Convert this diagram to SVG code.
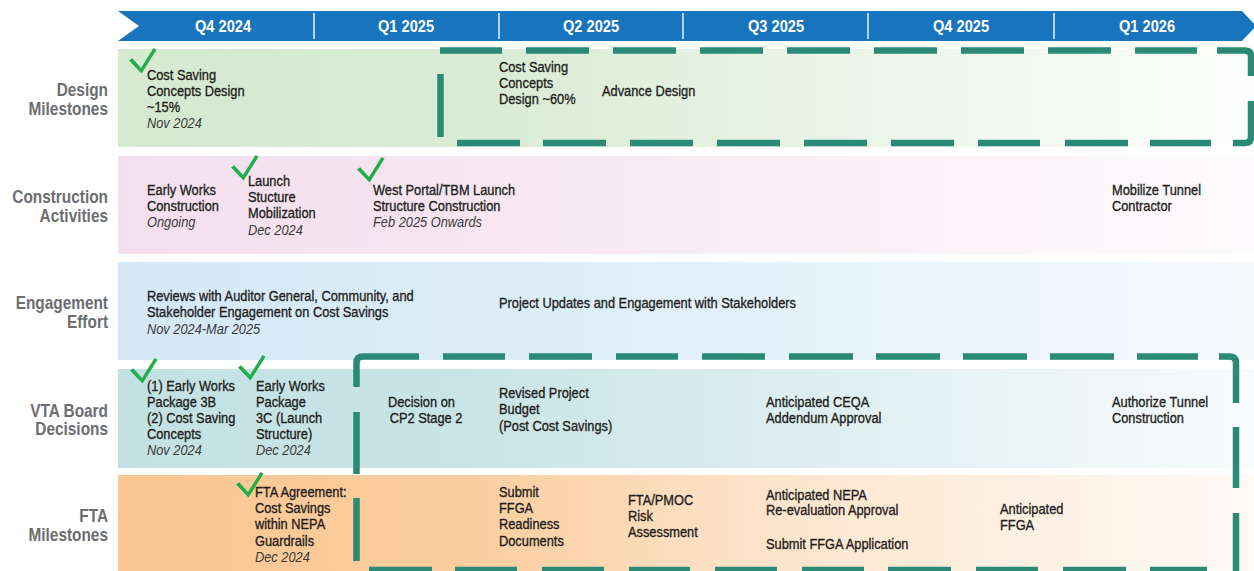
<svg xmlns="http://www.w3.org/2000/svg" xmlns:xlink="http://www.w3.org/1999/xlink" width="1254" height="571" viewBox="0 0 1254 571">
<style>
.lbl{font-family:"Liberation Sans",Arial,sans-serif;font-weight:bold;font-size:17.5px;fill:#6d6e71;text-anchor:end}
.q{font-family:"Liberation Sans",Arial,sans-serif;font-weight:bold;font-size:17px;fill:#ffffff;text-anchor:middle}
.t{font-family:"Liberation Sans",Arial,sans-serif;font-size:15px;fill:#231f20;stroke:#231f20;stroke-width:0.35}
.d{font-style:italic;fill:#3a3a3a;stroke:none}
.chk{fill:#1fae4b}
.dash{fill:none;stroke:#2a8a75;stroke-width:6.5;stroke-linecap:butt}
.div{stroke:#e8f0f8;stroke-width:1.5}
</style>
<defs>
<linearGradient id="gDes" x1="0" y1="0" x2="1" y2="0">
<stop offset="0" stop-color="#d6ead0"/><stop offset="0.3" stop-color="#d9ebd4"/><stop offset="1" stop-color="#fdfefd"/>
</linearGradient>
<linearGradient id="gCon" x1="0" y1="0" x2="1" y2="0">
<stop offset="0" stop-color="#f4e0ed"/><stop offset="0.3" stop-color="#f6e6f0"/><stop offset="1" stop-color="#fdfbfd"/>
</linearGradient>
<linearGradient id="gEng" x1="0" y1="0" x2="1" y2="0">
<stop offset="0" stop-color="#d4e8f6"/><stop offset="0.35" stop-color="#dcedf8"/><stop offset="1" stop-color="#f5fafd"/>
</linearGradient>
<linearGradient id="gVta" x1="0" y1="0" x2="1" y2="0">
<stop offset="0" stop-color="#c3e1e3"/><stop offset="0.3" stop-color="#c9e4e6"/><stop offset="1" stop-color="#f8fbfc"/>
</linearGradient>
<linearGradient id="gFta" x1="0" y1="0" x2="1" y2="0">
<stop offset="0" stop-color="#fbc792"/><stop offset="0.3" stop-color="#fbcd9e"/><stop offset="0.6" stop-color="#fde6cf"/><stop offset="1" stop-color="#fefaf6"/>
</linearGradient>
<path id="chk" d="M0,12.5 L3.2,10.3 L12,20 L24.5,0 L27.5,1.8 L12.5,25.5 Z"/>
</defs>
<rect width="1254" height="571" fill="#ffffff"/>

<g id="timeline-header">
<path d="M118,11 H1242 L1256,26 L1242,41 H118 L139,26 Z" fill="#1874bc"/>
<line class="div" x1="314" y1="13" x2="314" y2="39"/>
<line class="div" x1="499" y1="13" x2="499" y2="39"/>
<line class="div" x1="683" y1="13" x2="683" y2="39"/>
<line class="div" x1="868" y1="13" x2="868" y2="39"/>
<line class="div" x1="1054" y1="13" x2="1054" y2="39"/>
<text class="q" transform="translate(223,0) scale(0.86,1)" x="0" y="32.5">Q4 2024</text>
<text class="q" transform="translate(406,0) scale(0.86,1)" x="0" y="32.5">Q1 2025</text>
<text class="q" transform="translate(591,0) scale(0.86,1)" x="0" y="32.5">Q2 2025</text>
<text class="q" transform="translate(776,0) scale(0.86,1)" x="0" y="32.5">Q3 2025</text>
<text class="q" transform="translate(961,0) scale(0.86,1)" x="0" y="32.5">Q4 2025</text>
<text class="q" transform="translate(1147,0) scale(0.86,1)" x="0" y="32.5">Q1 2026</text>
</g>

<g id="row-design">
<rect x="118" y="49" width="1136" height="98" fill="url(#gDes)"/>
<text class="lbl" transform="translate(108,0) scale(0.88,1)"><tspan x="0" y="96">Design</tspan><tspan x="0" y="115.5">Milestones</tspan></text>
</g>
<g id="row-construction">
<rect x="118" y="156" width="1136" height="98" fill="url(#gCon)"/>
<text class="lbl" transform="translate(108,0) scale(0.88,1)"><tspan x="0" y="203">Construction</tspan><tspan x="0" y="222">Activities</tspan></text>
</g>
<g id="row-engagement">
<rect x="118" y="262" width="1136" height="98" fill="url(#gEng)"/>
<text class="lbl" transform="translate(108,0) scale(0.88,1)"><tspan x="0" y="309.5">Engagement</tspan><tspan x="0" y="328.5">Effort</tspan></text>
</g>
<g id="row-vta">
<rect x="118" y="369" width="1136" height="99" fill="url(#gVta)"/>
<text class="lbl" transform="translate(108,0) scale(0.88,1)"><tspan x="0" y="417">VTA Board</tspan><tspan x="0" y="435">Decisions</tspan></text>
</g>
<g id="row-fta">
<rect x="118" y="475" width="1136" height="96" fill="url(#gFta)"/>
<text class="lbl" transform="translate(108,0) scale(0.88,1)"><tspan x="0" y="522">FTA</tspan><tspan x="0" y="541">Milestones</tspan></text>
</g>

<g id="phase-boxes">
<path class="dash" d="M440,50.5 H502 M526,50.5 H589 M613,50.5 H676 M700,50.5 H763 M787,50.5 H850 M874,50.5 H937 M961,50.5 H1024 M1048,50.5 H1111 M1135,50.5 H1197 M1217,50.5 H1245 Q1251,50.5 1251,56.5 V76 M1251,101 V137 Q1251,143 1245,143 H1233 M1211,143 H1150 M1128,143 H1065 M1040,143 H978 M954,143 H891 M867,143 H804 M780,143 H717 M693,143 H630 M606,143 H543 M520,143 H457 M440.5,74 V137"/>
<path class="dash" d="M356.5,387 V363 Q356.5,356.5 363,356.5 H419 M443,356.5 H505 M529,356.5 H592 M616,356.5 H678 M702,356.5 H765 M789,356.5 H853 M876,356.5 H940 M963,356.5 H1027 M1050,356.5 H1114 M1137,356.5 H1198 M1219,356.5 H1229.5 Q1236,356.5 1236,363 V403 M1236,427 V488 M1236,513 V575 M356.5,412 V474 M356.5,498 V561 M369,570 H432 M455,570 H517 M542,570 H604 M629,570 H690 M715,570 H777 M802,570 H864 M888,570 H951 M976,570 H1038 M1063,570 H1126 M1150,570 H1207"/>
</g>

<g id="design-15">
<use href="#chk" class="chk" x="129" y="48"/>
<text class="t" transform="translate(147,0) scale(0.855,1)"><tspan x="0" y="80">Cost Saving</tspan><tspan x="0" y="96">Concepts Design</tspan><tspan x="0" y="112">~15%</tspan><tspan class="d" x="0" y="128.5">Nov 2024</tspan></text>
</g>
<g id="design-60">
<text class="t" transform="translate(499,0) scale(0.855,1)"><tspan x="0" y="72">Cost Saving</tspan><tspan x="0" y="88">Concepts</tspan><tspan x="0" y="104.5">Design ~60%</tspan></text>
</g>
<g id="advance-design">
<text class="t" transform="translate(602,0) scale(0.855,1)" x="0" y="96.5">Advance Design</text>
</g>

<g id="early-works-construction">
<text class="t" transform="translate(147,0) scale(0.855,1)"><tspan x="0" y="195">Early Works</tspan><tspan x="0" y="211">Construction</tspan><tspan class="d" x="0" y="227.5">Ongoing</tspan></text>
</g>
<g id="launch-structure-mobilization">
<use href="#chk" class="chk" x="231" y="155"/>
<text class="t" transform="translate(248,0) scale(0.855,1)"><tspan x="0" y="186">Launch</tspan><tspan x="0" y="202">Stucture</tspan><tspan x="0" y="218.5">Mobilization</tspan><tspan class="d" x="0" y="235">Dec 2024</tspan></text>
</g>
<g id="west-portal">
<use href="#chk" class="chk" x="357" y="157"/>
<text class="t" transform="translate(373,0) scale(0.855,1)"><tspan x="0" y="195">West Portal/TBM Launch</tspan><tspan x="0" y="211">Structure Construction</tspan><tspan class="d" x="0" y="227.5">Feb 2025 Onwards</tspan></text>
</g>
<g id="mobilize-tunnel">
<text class="t" transform="translate(1112,0) scale(0.855,1)"><tspan x="0" y="195">Mobilize Tunnel</tspan><tspan x="0" y="211">Contractor</tspan></text>
</g>

<g id="reviews-auditor">
<text class="t" transform="translate(147,0) scale(0.855,1)"><tspan x="0" y="301.5">Reviews with Auditor General, Community, and</tspan><tspan x="0" y="317.5">Stakeholder Engagement on Cost Savings</tspan><tspan class="d" x="0" y="334">Nov 2024-Mar 2025</tspan></text>
</g>
<g id="project-updates">
<text class="t" transform="translate(499,0) scale(0.855,1)" x="0" y="308.5">Project Updates and Engagement with Stakeholders</text>
</g>

<g id="vta-package-3b">
<use href="#chk" class="chk" x="130" y="358"/>
<text class="t" transform="translate(147,0) scale(0.855,1)"><tspan x="0" y="391">(1) Early Works</tspan><tspan x="0" y="407">Package 3B</tspan><tspan x="0" y="423">(2) Cost Saving</tspan><tspan x="0" y="439">Concepts</tspan><tspan class="d" x="0" y="455.5">Nov 2024</tspan></text>
</g>
<g id="vta-package-3c">
<use href="#chk" class="chk" x="238" y="355"/>
<text class="t" transform="translate(256,0) scale(0.855,1)"><tspan x="0" y="391">Early Works</tspan><tspan x="0" y="407">Package</tspan><tspan x="0" y="423">3C (Launch</tspan><tspan x="0" y="439">Structure)</tspan><tspan class="d" x="0" y="455.5">Dec 2024</tspan></text>
</g>
<g id="decision-cp2">
<text class="t" transform="translate(388,0) scale(0.855,1)"><tspan x="0" y="407">Decision on</tspan><tspan x="2" y="423">CP2 Stage 2</tspan></text>
</g>
<g id="revised-budget">
<text class="t" transform="translate(499,0) scale(0.855,1)"><tspan x="0" y="398">Revised Project</tspan><tspan x="0" y="414.5">Budget</tspan><tspan x="0" y="431">(Post Cost Savings)</tspan></text>
</g>
<g id="ceqa-addendum">
<text class="t" transform="translate(766,0) scale(0.855,1)"><tspan x="0" y="407">Anticipated CEQA</tspan><tspan x="0" y="423">Addendum Approval</tspan></text>
</g>
<g id="authorize-tunnel">
<text class="t" transform="translate(1112,0) scale(0.855,1)"><tspan x="0" y="407">Authorize Tunnel</tspan><tspan x="0" y="423">Construction</tspan></text>
</g>

<g id="fta-agreement">
<use href="#chk" class="chk" x="236" y="472"/>
<text class="t" transform="translate(255,0) scale(0.855,1)"><tspan x="0" y="497">FTA Agreement:</tspan><tspan x="0" y="513">Cost Savings</tspan><tspan x="0" y="529.5">within NEPA</tspan><tspan x="0" y="546">Guardrails</tspan><tspan class="d" x="0" y="562">Dec 2024</tspan></text>
</g>
<g id="submit-ffga-readiness">
<text class="t" transform="translate(499,0) scale(0.855,1)"><tspan x="0" y="497">Submit</tspan><tspan x="0" y="513">FFGA</tspan><tspan x="0" y="529.5">Readiness</tspan><tspan x="0" y="546">Documents</tspan></text>
</g>
<g id="fta-pmoc">
<text class="t" transform="translate(628,0) scale(0.855,1)"><tspan x="0" y="505">FTA/PMOC</tspan><tspan x="0" y="521">Risk</tspan><tspan x="0" y="537.5">Assessment</tspan></text>
</g>
<g id="nepa-reevaluation">
<text class="t" transform="translate(766,0) scale(0.855,1)"><tspan x="0" y="500">Anticipated NEPA</tspan><tspan x="0" y="515.5">Re-evaluation Approval</tspan></text>
</g>
<g id="submit-ffga-application">
<text class="t" transform="translate(766,0) scale(0.855,1)" x="0" y="549.5">Submit FFGA Application</text>
</g>
<g id="anticipated-ffga">
<text class="t" transform="translate(1000,0) scale(0.855,1)"><tspan x="0" y="514">Anticipated</tspan><tspan x="0" y="530">FFGA</tspan></text>
</g>
</svg>
